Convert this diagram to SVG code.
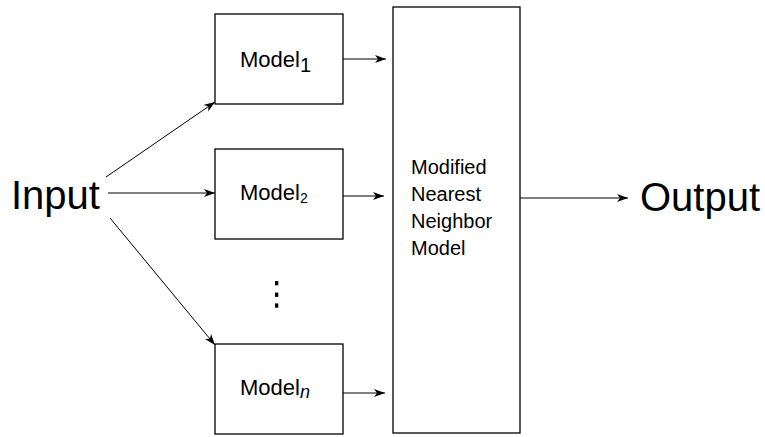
<svg xmlns="http://www.w3.org/2000/svg" width="765" height="437" viewBox="0 0 765 437">
  <style>
    .box { fill: #ffffff; stroke: #000000; stroke-width: 1.3; }
    .lbl { font-family: "Liberation Sans", Arial, sans-serif; fill: #000000; }
    .big { font-size: 40px; }
    .mdl { font-size: 22px; }
    .nn { font-size: 20px; }
    .edge { stroke: #000000; stroke-width: 1; fill: none; marker-end: url(#arrow); }
  </style>
  <defs>
    <marker id="arrow" markerUnits="userSpaceOnUse" markerWidth="12" markerHeight="10" refX="11" refY="4" orient="auto">
      <path d="M0,0 L11,4 L0,8 L3,4 z" fill="#000000"/>
    </marker>
  </defs>
  <rect width="765" height="437" fill="#ffffff"/>

  <g id="input">
    <text class="lbl big" x="11" y="209">Input</text>
  </g>

  <g id="model1">
    <rect class="box" x="215" y="14" width="128" height="90"/>
    <text class="lbl mdl" x="240" y="67">Model<tspan font-size="20px" dy="5">1</tspan></text>
  </g>

  <g id="model2">
    <rect class="box" x="215" y="149" width="128" height="90"/>
    <text class="lbl mdl" x="240" y="200">Model<tspan font-size="14px" dy="3">2</tspan></text>
  </g>

  <g id="ellipsis">
    <rect x="275" y="281" width="3.3" height="4.3" fill="#000000"/>
    <rect x="275" y="292.6" width="3.3" height="4.3" fill="#000000"/>
    <rect x="275" y="303.4" width="3.3" height="4.3" fill="#000000"/>
  </g>

  <g id="modeln">
    <rect class="box" x="215" y="344" width="128" height="90"/>
    <text class="lbl mdl" x="240" y="395">Model<tspan font-size="18px" font-style="italic" dy="3">n</tspan></text>
  </g>

  <g id="nearest-neighbor">
    <rect class="box" x="393" y="7" width="127" height="426"/>
    <text class="lbl nn" x="411" y="174">Modified</text>
    <text class="lbl nn" x="411" y="201">Nearest</text>
    <text class="lbl nn" x="411" y="228">Neighbor</text>
    <text class="lbl nn" x="411" y="255">Model</text>
  </g>

  <g id="output">
    <text class="lbl big" x="640" y="211">Output</text>
  </g>

  <g id="connectors">
    <line class="edge" x1="106" y1="177" x2="215" y2="102"/>
    <line class="edge" x1="108" y1="193" x2="215" y2="193"/>
    <line class="edge" x1="110" y1="218" x2="215" y2="345"/>
    <line class="edge" x1="343" y1="59" x2="386" y2="59"/>
    <line class="edge" x1="343" y1="196" x2="384" y2="196"/>
    <line class="edge" x1="343" y1="393" x2="385" y2="393"/>
    <line class="edge" x1="520" y1="198" x2="628" y2="198"/>
  </g>
</svg>
